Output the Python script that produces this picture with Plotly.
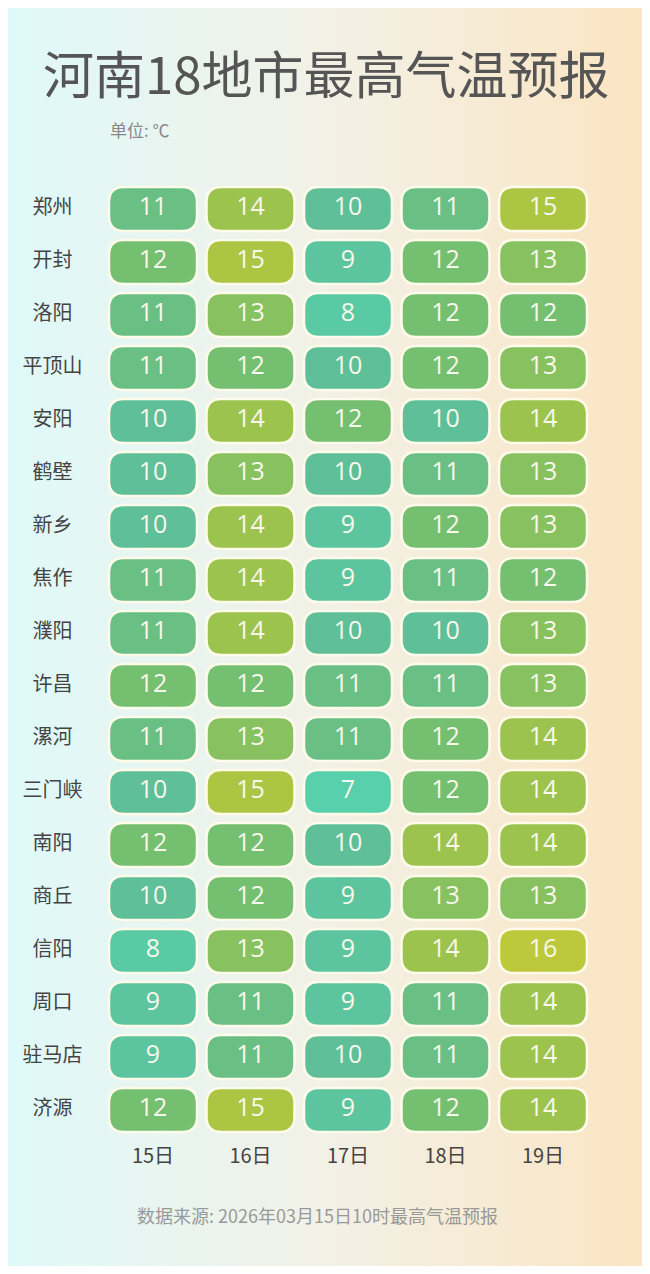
import base64
import plotly.graph_objects as go
from plotly.colors import sample_colorscale

cities = ["郑州", "开封", "洛阳", "平顶山", "安阳", "鹤壁", "新乡", "焦作", "濮阳",
          "许昌", "漯河", "三门峡", "南阳", "商丘", "信阳", "周口", "驻马店", "济源"]
days = ["15日", "16日", "17日", "18日", "19日"]
temps = [
    [11, 14, 10, 11, 15],
    [12, 15, 9, 12, 13],
    [11, 13, 8, 12, 12],
    [11, 12, 10, 12, 13],
    [10, 14, 12, 10, 14],
    [10, 13, 10, 11, 13],
    [10, 14, 9, 12, 13],
    [11, 14, 9, 11, 12],
    [11, 14, 10, 10, 13],
    [12, 12, 11, 11, 13],
    [11, 13, 11, 12, 14],
    [10, 15, 7, 12, 14],
    [12, 12, 10, 14, 14],
    [10, 12, 9, 13, 13],
    [8, 13, 9, 14, 16],
    [9, 11, 9, 11, 14],
    [9, 11, 10, 11, 14],
    [12, 15, 9, 12, 14],
]

FONT = "Noto Sans CJK SC"
OFF = 8  # page body margin
W, H = 650 - 2 * OFF, 1274 - 2 * OFF
scale = [[0, "#57d0ab"], [0.33, "#5fbf99"], [0.55, "#74bf72"], [0.78, "#9cc34d"], [1, "#bcc93a"]]
vmin, vmax = 7, 16

# column i centre = 153 + 97.5*i, row j centre = 209 + 53*j (page pixels)
dx, dy, x0, y0 = 97.5, 53.0, 153.0 - OFF, 209.0 - OFF
xr = [-x0 / dx, (W - x0) / dx]
yr = [(H - y0) / dy, -y0 / dy]

svg = f'''<svg xmlns="http://www.w3.org/2000/svg" width="{W}" height="{H}">
<defs><linearGradient id="g" x1="0" y1="0" x2="1" y2="0">
<stop offset="0" stop-color="#dff9fa"/><stop offset="0.5" stop-color="#f2f1e6"/>
<stop offset="1" stop-color="#fbe5c3"/></linearGradient></defs>
<rect width="{W}" height="{H}" fill="url(#g)"/></svg>'''
bg = "data:image/svg+xml;base64," + base64.b64encode(svg.encode()).decode()


def py(p):
    return 1 - (p - OFF) / H


fig = go.Figure()
shapes = []
hw, hh = 44 / dx, 22 / dy
rx, ry = 15 / dx, 15 / dy
for j, row in enumerate(temps):
    for i, v in enumerate(row):
        col = sample_colorscale(scale, [(v - vmin) / (vmax - vmin)])[0]
        l, r, t, b = i - hw, i + hw, j - hh, j + hh
        path = (f"M {l+rx},{t} L {r-rx},{t} Q {r},{t} {r},{t+ry} L {r},{b-ry} Q {r},{b} {r-rx},{b} "
                f"L {l+rx},{b} Q {l},{b} {l},{b-ry} L {l},{t+ry} Q {l},{t} {l+rx},{t} Z")
        shapes.append(dict(type="path", path=path, xref="x", yref="y", fillcolor=col,
                           line=dict(color="#fffbea", width=2.5), layer="below"))

xs = [i for j in range(len(cities)) for i in range(len(days))]
ys = [j for j in range(len(cities)) for i in range(len(days))]
txt = [str(temps[j][i]) for j, i in zip(ys, xs)]
fig.add_trace(go.Scatter(x=xs, y=ys, mode="text", text=txt,
                         textfont=dict(family="Open Sans", size=25, color="#f8f8ec"), hoverinfo="skip"))
fig.add_trace(go.Scatter(x=[-1.03] * len(cities), y=list(range(len(cities))), mode="text", text=cities,
                         textfont=dict(family=FONT, size=20, color="#444"), hoverinfo="skip"))
fig.add_trace(go.Scatter(x=list(range(len(days))), y=[17.9] * len(days), mode="text", text=days,
                         textfont=dict(family=FONT, size=20, color="#444"), hoverinfo="skip"))

fig.update_layout(
    width=W, height=H, margin=dict(l=0, r=0, t=0, b=0), showlegend=False,
    paper_bgcolor="rgba(0,0,0,0)", plot_bgcolor="rgba(0,0,0,0)",
    xaxis=dict(range=xr, visible=False, fixedrange=True),
    yaxis=dict(range=yr, visible=False, fixedrange=True),
    shapes=shapes,
    images=[dict(source=bg, xref="paper", yref="paper", x=0, y=1, sizex=1, sizey=1,
                 sizing="stretch", layer="below", xanchor="left", yanchor="top")],
    annotations=[
        dict(text="河南18地市最高气温预报", x=(326 - OFF) / W, y=py(72), xref="paper", yref="paper",
             yanchor="middle", showarrow=False, font=dict(family=FONT, size=51, color="#555")),
        dict(text="单位: ℃", x=(108 - OFF) / W, y=py(130), xref="paper", yref="paper", xanchor="left",
             yanchor="middle", showarrow=False, font=dict(family=FONT, size=17, color="#888")),
        dict(text="数据来源: 2026年03月15日10时最高气温预报", x=(317 - OFF) / W, y=py(1215),
             xref="paper", yref="paper", yanchor="middle", showarrow=False,
             font=dict(family=FONT, size=18, color="#999")),
    ],
)
fig.write_html("out.html")
